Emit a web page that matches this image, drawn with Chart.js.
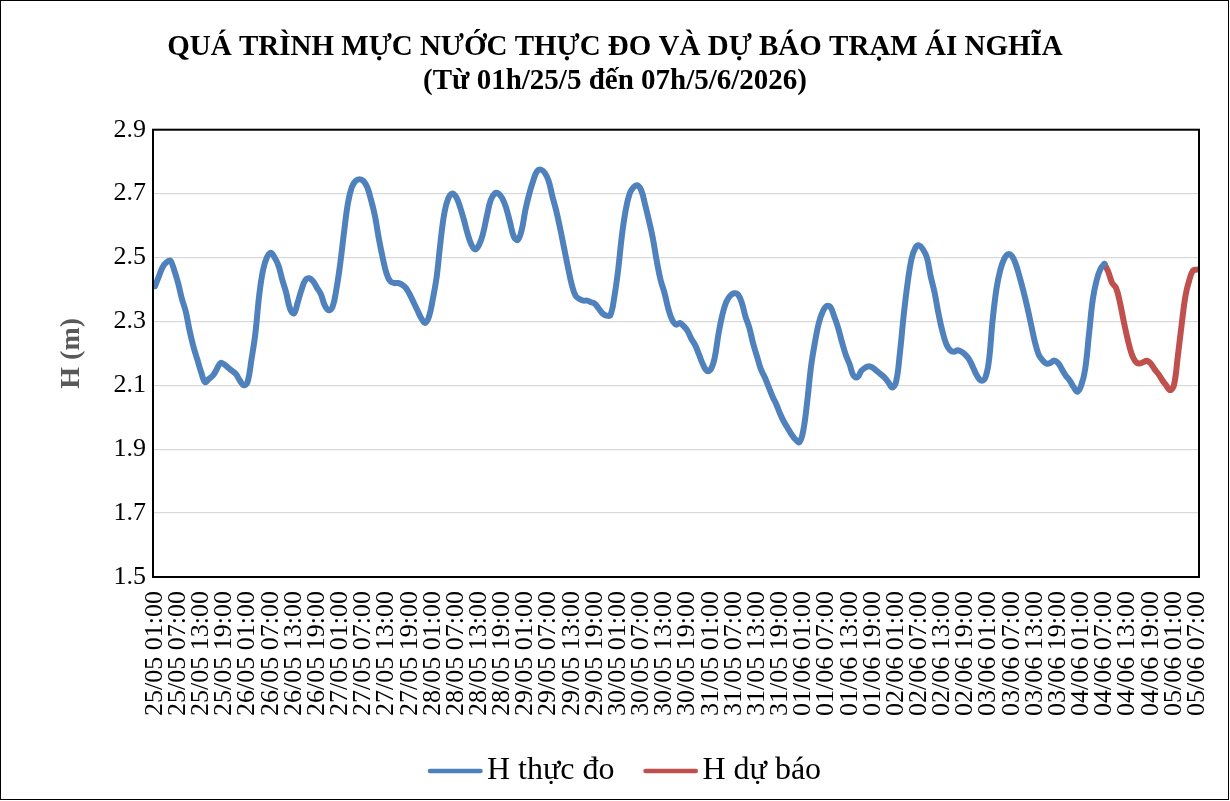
<!DOCTYPE html>
<html>
<head>
<meta charset="utf-8">
<script src="https://cdn.jsdelivr.net/npm/chart.js@4/dist/chart.umd.min.js"></script>
<style>
  html, body { margin: 0; padding: 0; background: #fff; }
  #wrap { width: 1230px; height: 801px; }
</style>
</head>
<body>
<div id="wrap"><canvas id="mucNuocChart" width="1230" height="801"></canvas></div>
<script>
// số liệu theo giờ, từ 01h 25/05 (giờ 0) đến 07h 05/06 (giờ 270)
const hThucDo = [
  2.41, 2.44, 2.47, 2.485, 2.49, 2.46, 2.42, 2.37, 2.33, 2.27,
  2.22, 2.18, 2.14, 2.11, 2.12, 2.13, 2.15, 2.17, 2.165, 2.155,
  2.145, 2.135, 2.115, 2.10, 2.11, 2.18, 2.26, 2.38, 2.46, 2.50,
  2.515, 2.50, 2.475, 2.43, 2.39, 2.34, 2.325, 2.36, 2.40, 2.43,
  2.435, 2.425, 2.405, 2.385, 2.35, 2.335, 2.345, 2.40, 2.48, 2.58,
  2.67, 2.72, 2.74, 2.745, 2.74, 2.72, 2.68, 2.63, 2.56, 2.50,
  2.45, 2.425, 2.42, 2.42, 2.415, 2.405, 2.385, 2.36, 2.335, 2.31,
  2.295, 2.315, 2.37, 2.44, 2.55, 2.64, 2.685, 2.70, 2.69, 2.66,
  2.62, 2.575, 2.54, 2.525, 2.54, 2.575, 2.63, 2.68, 2.70, 2.70,
  2.685, 2.655, 2.61, 2.565, 2.555, 2.585, 2.65, 2.70, 2.74, 2.77,
  2.775, 2.765, 2.74, 2.69, 2.645, 2.59, 2.53, 2.47, 2.415, 2.38,
  2.37, 2.365, 2.365, 2.36, 2.355, 2.34, 2.325, 2.318, 2.32, 2.375,
  2.46, 2.57, 2.65, 2.70, 2.72, 2.726, 2.71, 2.665, 2.615, 2.56,
  2.49, 2.43, 2.39, 2.34, 2.305, 2.29, 2.295, 2.285, 2.27, 2.245,
  2.225, 2.195, 2.165, 2.145, 2.15, 2.185, 2.26, 2.32, 2.36, 2.38,
  2.388, 2.385, 2.36, 2.315, 2.28, 2.23, 2.19, 2.15, 2.125, 2.095,
  2.065, 2.04, 2.01, 1.985, 1.965, 1.945, 1.93, 1.922, 1.96, 2.05,
  2.16, 2.235, 2.295, 2.33, 2.348, 2.345, 2.315, 2.28, 2.235, 2.195,
  2.165, 2.13, 2.125, 2.145, 2.155, 2.16, 2.155, 2.145, 2.135, 2.125,
  2.11, 2.093, 2.11, 2.20, 2.32, 2.42, 2.495, 2.53, 2.538, 2.525,
  2.50, 2.44, 2.39, 2.325, 2.27, 2.23, 2.21, 2.205, 2.21, 2.205,
  2.195, 2.18, 2.155, 2.13, 2.115, 2.12, 2.17, 2.30, 2.40, 2.46,
  2.495, 2.51, 2.505, 2.48, 2.44, 2.395, 2.345, 2.29, 2.235, 2.195,
  2.178, 2.168, 2.17, 2.178, 2.17, 2.15, 2.13, 2.115, 2.095, 2.08,
  2.10, 2.15, 2.26, 2.37, 2.43, 2.465, 2.48
];

// dự báo bắt đầu từ 07h 04/06 (giờ 246)
const gioBatDauDuBao = 246;
const hDuBao = [
  2.48, 2.455, 2.42, 2.405, 2.36, 2.30, 2.245, 2.20, 2.175, 2.168,
  2.172, 2.177, 2.168, 2.15, 2.135, 2.116, 2.10, 2.085, 2.10, 2.19,
  2.29, 2.38, 2.43, 2.46, 2.462
];

// nhãn trục hoành, 6 giờ một nhãn
const nhanTruc = [
  "25/05 01:00", "25/05 07:00", "25/05 13:00", "25/05 19:00",
  "26/05 01:00", "26/05 07:00", "26/05 13:00", "26/05 19:00",
  "27/05 01:00", "27/05 07:00", "27/05 13:00", "27/05 19:00",
  "28/05 01:00", "28/05 07:00", "28/05 13:00", "28/05 19:00",
  "29/05 01:00", "29/05 07:00", "29/05 13:00", "29/05 19:00",
  "30/05 01:00", "30/05 07:00", "30/05 13:00", "30/05 19:00",
  "31/05 01:00", "31/05 07:00", "31/05 13:00", "31/05 19:00",
  "01/06 01:00", "01/06 07:00", "01/06 13:00", "01/06 19:00",
  "02/06 01:00", "02/06 07:00", "02/06 13:00", "02/06 19:00",
  "03/06 01:00", "03/06 07:00", "03/06 13:00", "03/06 19:00",
  "04/06 01:00", "04/06 07:00", "04/06 13:00", "04/06 19:00",
  "05/06 01:00", "05/06 07:00"
];

const font = 'Liberation Serif, Times New Roman, serif';

// mẫu đường trong chú giải: vẽ lệch sang phải để sát chữ hơn
const hopChuGiai = 62;
function mauDuong(mau) {
    const c = document.createElement('canvas');
    c.width = hopChuGiai + 24;
    c.height = 8;
    const g = c.getContext('2d');
    g.strokeStyle = mau;
    g.lineWidth = 4.5;
    g.lineCap = 'round';
    g.beginPath();
    g.moveTo(hopChuGiai - 29, 4);
    g.lineTo(hopChuGiai + 21.5, 4);
    g.stroke();
    return c;
}

// khung vùng vẽ và viền ngoài
const khungPlugin = {
    id: 'khung',
    afterDraw(chart) {
        const {ctx, chartArea: a} = chart;
        ctx.save();
        ctx.strokeStyle = '#000';
        ctx.lineWidth = 2;
        ctx.strokeRect(a.left, a.top, a.right - a.left, a.bottom - a.top);
        ctx.lineWidth = 1;
        ctx.strokeRect(0.5, 0.5, 1228, 799);
        ctx.restore();
    }
};

const data = {
    datasets: [{
        label: 'H thực đo',
        borderColor: '#4F81BD',
        backgroundColor: '#4F81BD',
        borderWidth: 6,
        borderCapStyle: 'round',
        borderJoinStyle: 'round',
        pointRadius: 0,
        tension: 0.4,
        data: hThucDo.map((v, i) => ({x: i, y: v})),
    }, {
        label: 'H dự báo',
        borderColor: '#C0504D',
        backgroundColor: '#C0504D',
        borderWidth: 6,
        borderCapStyle: 'round',
        borderJoinStyle: 'round',
        pointRadius: 0,
        tension: 0.4,
        data: hDuBao.map((v, i) => ({x: gioBatDauDuBao + i, y: v})),
    }]
};

const config = {
    type: 'line',
    data: data,
    plugins: [khungPlugin],
    options: {
        responsive: false,
        animation: false,
        layout: {
            padding: {left: 31, right: 31, top: 10, bottom: 4}
        },
        scales: {
            x: {
                type: 'linear',
                min: -0.5,
                max: 270.5,
                afterFit(scale) {
                    scale.height = 168;
                    scale.paddingLeft = 0;
                    scale.paddingRight = 0;
                },
                grid: {display: false},
                border: {display: false},
                ticks: {
                    stepSize: 6,
                    autoSkip: false,
                    includeBounds: false,
                    maxRotation: 90,
                    minRotation: 90,
                    padding: 6,
                    color: '#000',
                    font: {family: font, size: 26},
                    callback: (v) => (v % 6 === 0 ? nhanTruc[v / 6] : null)
                }
            },
            y: {
                min: 1.5,
                max: 2.9,
                afterFit(scale) { scale.width = 122; },
                grid: {color: '#d9d9d9', lineWidth: 1.3, drawTicks: false},
                border: {display: false},
                ticks: {
                    stepSize: 0.2,
                    padding: 7,
                    color: '#000',
                    font: {family: font, size: 26},
                    callback: (v) => v.toFixed(1)
                },
                title: {
                    display: true,
                    text: 'H (m)',
                    color: '#595959',
                    padding: {top: 24, bottom: 0},
                    font: {family: font, size: 28, weight: 'bold'}
                }
            }
        },
        plugins: {
            title: {
                display: true,
                text: ['QUÁ TRÌNH MỰC NƯỚC THỰC ĐO VÀ DỰ BÁO TRẠM ÁI NGHĨA',
                       '(Từ 01h/25/5 đến 07h/5/6/2026)'],
                color: '#000',
                font: {family: font, size: 29, weight: 'bold', lineHeight: 1.15},
                padding: {top: 21, bottom: 32}
            },
            legend: {
                position: 'bottom',
                labels: {
                    usePointStyle: true,
                    pointStyleWidth: hopChuGiai,
                    padding: 10,
                    color: '#000',
                    font: {family: font, size: 32},
                    generateLabels: (chart) => Chart.defaults.plugins.legend.labels
                        .generateLabels(chart)
                        .map(l => ({...l, pointStyle: mauDuong(l.strokeStyle)}))
                }
            },
            tooltip: {enabled: false}
        }
    }
};

const mucNuocChart = new Chart(
    document.getElementById('mucNuocChart'),
    config
);
</script>
</body>
</html>
